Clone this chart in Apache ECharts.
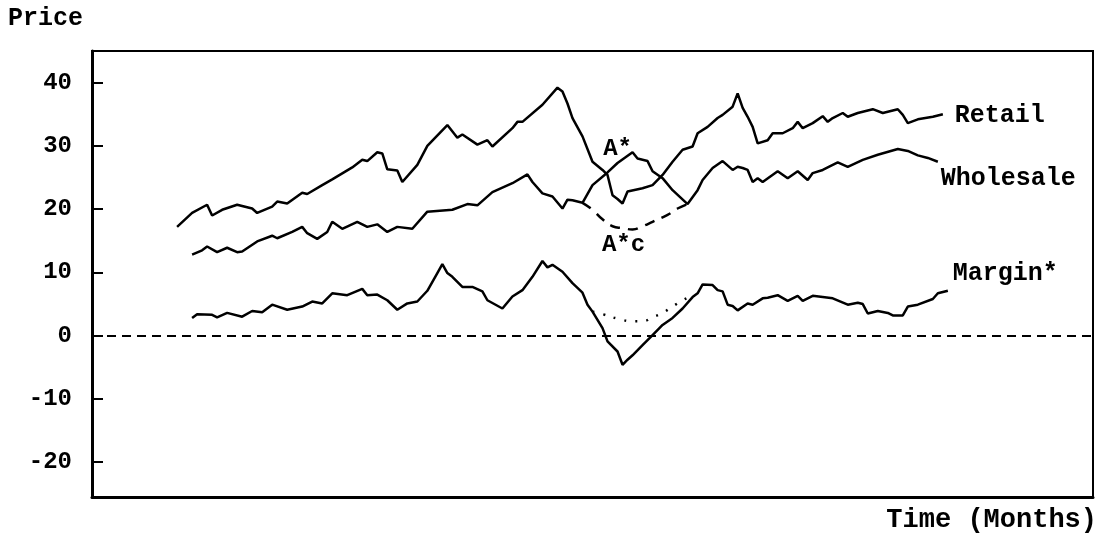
<!DOCTYPE html>
<html>
<head>
<meta charset="utf-8">
<title>Retail, Wholesale and Margin</title>
<script src="https://cdn.jsdelivr.net/npm/echarts@6/dist/echarts.min.js"></script>
<style>
  html, body { margin: 0; padding: 0; background: #fff; }
  #chart { width: 1098px; height: 543px; }
</style>
</head>
<body>
<div id="chart"></div>
<script>
// Prices by month: [month, price]
const retail = [
  [17,17.2],[20,19.4],[23,20.7],[24,19.0],[26,19.9],[29,20.7],[32,20.1],[33,19.4],[36,20.4],[37,21.2],
  [39,20.9],[42,22.6],[43,22.4],[46,23.8],[48,24.7],[52,26.6],[54,27.8],[55,27.6],[57,29.0],[58,28.8],
  [59,26.3],[61,26.1],[62,24.3],[65,27.0],[67,30.0],[71,33.3],[73,31.3],[74,31.8],[77,30.2],[79,30.9],
  [80,29.9],[84,32.8],[85,33.8],[86,33.8],[90,36.5],[93,39.2],[94,38.6],[95,36.7],[96,34.4],[98,31.5],
  [100,27.5],[102,26.2],[103,25.4],[104,22.2],[105,21.6],[106,20.9],[107,22.8],[110,23.3],[112,23.8],
  [114,25.4],[116,27.5],[118,29.4],[120,29.9],[121,32.0],[123,33.0],[125,34.4],[126,34.9],[128,36.2],
  [129,38.3],[130,36.0],[131,34.6],[132,33.0],[133,30.4],[135,30.9],[136,32.0],[138,32.0],[140,32.8],
  [141,33.8],[142,32.8],[144,33.6],[146,34.7],[147,33.8],[148,34.4],[150,35.2],[151,34.6],[153,35.2],
  [156,35.8],[158,35.2],[161,35.8],[162,34.9],[163,33.6],[165,34.2],[168,34.6],[170,35.0]
];
const wholesale = [
  [20,12.8],[22,13.5],[23,14.1],[25,13.2],[27,13.9],[29,13.2],[30,13.3],[33,14.9],[36,15.8],[37,15.4],
  [40,16.4],[42,17.2],[43,16.2],[45,15.3],[47,16.4],[48,18.0],[50,16.9],[53,18.0],[55,17.2],[57,17.6],
  [59,16.4],[61,17.2],[64,16.9],[67,19.6],[72,19.9],[75,20.8],[77,20.6],[80,22.7],[84,24.1],[87,25.5],
  [88,24.3],[90,22.5],[92,22.0],[94,20.1],[95,21.5],[96,21.4],[98,21.0],[100,23.8],[103,25.8],[105,27.3],
  [108,29.0],[109,28.0],[111,27.6],[112,26.0],[114,24.9],[116,23.0],[119,20.8],[121,23.0],[122,24.6],
  [124,26.5],[126,27.6],[128,26.2],[129,26.7],[130,26.5],[131,26.2],[132,24.3],[133,24.9],[134,24.3],
  [137,26.0],[139,24.9],[141,26.0],[143,24.6],[144,25.7],[146,26.2],[149,27.4],[151,26.7],[154,27.8],
  [157,28.6],[161,29.5],[163,29.2],[165,28.5],[167,28.1],[169,27.5]
];
const margin = [
  [20,2.8],[21,3.4],[24,3.3],[25,2.9],[27,3.6],[30,3.0],[32,3.9],[34,3.7],[36,4.9],[39,4.1],
  [42,4.6],[44,5.4],[46,5.1],[48,6.7],[51,6.4],[54,7.4],[55,6.4],[57,6.5],[59,5.6],[61,4.1],
  [63,5.1],[65,5.4],[67,7.1],[69,9.9],[70,11.3],[71,9.9],[72,9.3],[74,7.7],[76,7.7],[78,7.0],
  [79,5.6],[82,4.3],[84,6.2],[86,7.2],[88,9.3],[90,11.8],[91,10.8],[92,11.2],[94,10.1],[96,8.3],
  [98,6.8],[99,4.9],[100,3.8],[102,1.2],[103,-0.9],[105,-2.5],[106,-4.6],[107,-3.8],[108,-3.1],
  [110,-1.5],[112,0.1],[114,1.7],[116,2.8],[118,4.3],[120,6.1],[121,6.7],[122,8.1],[124,8.0],
  [125,7.2],[126,7.0],[127,4.9],[128,4.7],[129,4.0],[131,5.1],[132,4.9],[134,5.9],[135,6.0],
  [137,6.4],[139,5.5],[141,6.3],[142,5.5],[144,6.3],[146,6.1],[148,5.9],[151,4.9],[153,5.2],
  [154,5.0],[155,3.5],[157,3.9],[159,3.6],[160,3.2],[162,3.2],[163,4.6],[165,4.9],[168,5.8],
  [169,6.7],[171,7.1]
];
// Counterfactual wholesale path (A*c) and the margin it would leave
const wholesaleCf = [
  [98,21.0],[100,19.9],[102,18.4],[104,17.3],[106,17.0],[108,16.8],[110,17.3],[112,18.0],
  [115,19.1],[117,20.1],[119,20.8]
];
const marginCf = [
  [100,3.8],[102,3.4],[105,2.7],[108,2.3],[110,2.3],[112,2.9],[114,3.6],[116,4.6],[118,5.6],[119,6.0]
];
const yTicks = [-20, -10, 0, 10, 20, 30, 40];

const FONT = '"Liberation Mono", "DejaVu Sans Mono", monospace';
const txt = (size) => ({ fontFamily: FONT, fontWeight: 'bold', fontSize: size, color: '#000' });

const chart = echarts.init(document.getElementById('chart'), null, { renderer: 'canvas' });

const solid = { color: '#000', width: 2.5 };

// Invisible anchor so only the annotation text is drawn
const anchor = (coord, text, offset) => ({
  coord, symbol: 'circle', symbolSize: 1, itemStyle: { color: 'rgba(0,0,0,0)' },
  label: { show: true, position: 'inside', formatter: text, offset, ...txt(24) }
});

chart.setOption({
  animation: false,
  backgroundColor: '#fff',
  title: [
    { text: 'Price', left: 8, top: 6, padding: 0, textStyle: txt(25) },
    { text: 'Time (Months)', right: 1, top: 507, padding: 0, textStyle: txt(27) }
  ],
  grid: {
    left: 92, right: 5, top: 51, bottom: 46,
    show: true, borderColor: '#000', borderWidth: 2, backgroundColor: 'transparent'
  },
  xAxis: {
    type: 'value', min: 0, max: 200,
    axisLine: { show: true, onZero: false, lineStyle: { color: '#000', width: 3 } },
    axisTick: { show: false }, axisLabel: { show: false }, splitLine: { show: false }
  },
  yAxis: {
    type: 'value', min: -25.5, max: 45,
    axisLine: { show: true, onZero: false, lineStyle: { color: '#000', width: 3 } },
    axisTick: { show: true, inside: true, length: 11, customValues: yTicks,
                lineStyle: { color: '#000', width: 2 } },
    axisLabel: { customValues: yTicks, margin: 20, ...txt(24) },
    splitLine: { show: false }
  },
  series: [
    {
      name: 'Retail', type: 'line', data: retail, symbol: 'none', lineStyle: solid,
      endLabel: { show: true, formatter: 'Retail', distance: 12, offset: [0, 1], ...txt(25) },
      markLine: {
        silent: true, symbol: 'none', label: { show: false },
        lineStyle: { color: '#000', width: 1.8, type: [9, 6] },
        data: [{ yAxis: 0 }]
      }
    },
    {
      name: 'Wholesale', type: 'line', data: wholesale, symbol: 'none', lineStyle: solid,
      endLabel: { show: true, formatter: 'Wholesale', distance: 3, offset: [0, 17], ...txt(25) },
      markPoint: { silent: true, data: [anchor([108, 29.0], 'A*', [-15, -3])] }
    },
    {
      name: 'Margin*', type: 'line', data: margin, symbol: 'none', lineStyle: solid,
      endLabel: { show: true, formatter: 'Margin*', distance: 5, offset: [0, -17], ...txt(25) }
    },
    {
      name: 'A*c', type: 'line', data: wholesaleCf, symbol: 'none', smooth: true,
      lineStyle: { color: '#000', width: 2.5, type: [10, 8] },
      markPoint: { silent: true, data: [anchor([108, 16.8], 'A*c', [-9, 16])] }
    },
    {
      name: 'Margin*c', type: 'line', data: marginCf, symbol: 'none', smooth: true,
      lineStyle: { color: '#000', width: 2.5, type: [2, 9] }
    }
  ]
});
</script>
</body>
</html>
